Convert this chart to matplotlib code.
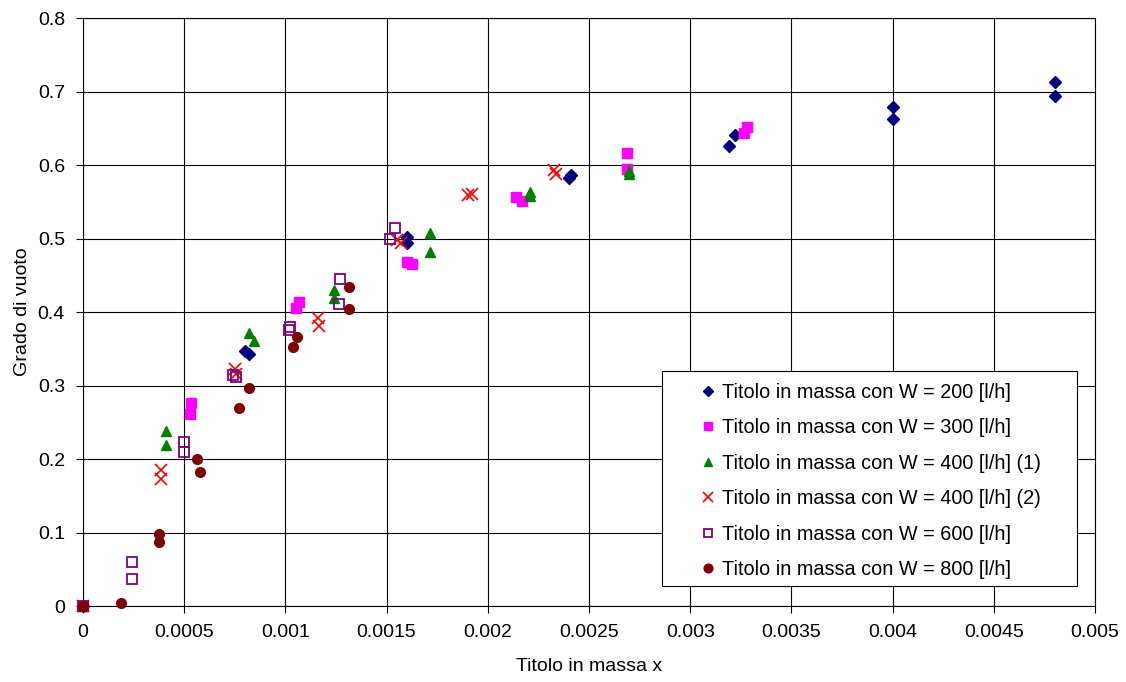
import matplotlib
matplotlib.use("Agg")
import matplotlib.pyplot as plt
from matplotlib.patches import Rectangle
from matplotlib.ticker import FuncFormatter

plt.rcParams['font.family'] = ['Liberation Sans', 'DejaVu Sans']

# W = 200 l/h
x_200 = [0.0, 0.00080, 0.00082, 0.00160, 0.00160, 0.00240, 0.00241,
         0.00319, 0.00322, 0.00400, 0.00400, 0.00480, 0.00480]
y_200 = [0.0, 0.347, 0.343, 0.502, 0.494, 0.583, 0.587,
         0.626, 0.641, 0.679, 0.663, 0.713, 0.694]

# W = 300 l/h
x_300 = [0.0, 0.000531, 0.000535, 0.00105, 0.001066, 0.00160, 0.001625,
         0.00214, 0.00217, 0.00269, 0.00269, 0.003268, 0.00328]
y_300 = [0.0, 0.261, 0.276, 0.406, 0.414, 0.468, 0.466,
         0.556, 0.551, 0.617, 0.594, 0.643, 0.652]

# W = 400 l/h (1)
x_400a = [0.0, 0.000408, 0.000411, 0.000819, 0.000844, 0.00124, 0.00124,
          0.001712, 0.001712, 0.00221, 0.00221, 0.0027, 0.0027]
y_400a = [0.0, 0.2385, 0.2186, 0.371, 0.361, 0.430, 0.419,
          0.508, 0.481, 0.563, 0.558, 0.592, 0.588]

# W = 400 l/h (2)
x_400b = [0.0, 0.000386, 0.000386, 0.00075, 0.000755, 0.001159, 0.001165,
          0.00155, 0.00157, 0.0019, 0.00192, 0.002325, 0.002335]
y_400b = [0.0, 0.185, 0.173, 0.323, 0.316, 0.392, 0.381,
          0.498, 0.494, 0.559, 0.561, 0.593, 0.588]

# W = 600 l/h
x_600 = [0.0, 0.000241, 0.000241, 0.000498, 0.000498, 0.00074, 0.000754,
         0.001024, 0.001017, 0.00127, 0.001267, 0.001543, 0.001518]
y_600 = [0.0, 0.0594, 0.0367, 0.223, 0.2095, 0.3147, 0.312,
         0.380, 0.3755, 0.445, 0.411, 0.514, 0.4993]

# W = 800 l/h
x_800 = [0.0, 0.000189, 0.000375, 0.000375, 0.000562, 0.000576, 0.000772,
         0.000821, 0.00104, 0.001056, 0.001312, 0.001312]
y_800 = [0.0, 0.0045, 0.098, 0.087, 0.1996, 0.182, 0.2694,
         0.2966, 0.3524, 0.3664, 0.4336, 0.4045]

x_ticks = [0, 0.0005, 0.001, 0.0015, 0.002, 0.0025, 0.003, 0.0035, 0.004, 0.0045, 0.005]
y_ticks = [0, 0.1, 0.2, 0.3, 0.4, 0.5, 0.6, 0.7, 0.8]

fig = plt.figure(figsize=(11.26, 6.82), dpi=100)
ax = fig.add_subplot(111)
fig.subplots_adjust(left=0.0737, right=0.9725, top=0.9736, bottom=0.1114)

ax.plot(x_200, y_200, 'D', color='#000080', ms=6, ls='none', zorder=3, clip_on=False,
        label='Titolo in massa con W = 200 [l/h]')
ax.plot(x_300, y_300, 's', color='#FF00FF', ms=6.5, ls='none', zorder=3, clip_on=False,
        label='Titolo in massa con W = 300 [l/h]')
ax.plot(x_400a, y_400a, '^', color='#008000', ms=7, ls='none', zorder=3, clip_on=False,
        label='Titolo in massa con W = 400 [l/h] (1)')
ax.plot(x_400b, y_400b, 'x', color='#FF0000', ms=8, mew=1.2, ls='none', zorder=3, clip_on=False,
        label='Titolo in massa con W = 400 [l/h] (2)')
ax.plot(x_600, y_600, 's', mfc='none', mec='#800080', mew=1.3, ms=6.5, ls='none', zorder=3,
        clip_on=False, label='Titolo in massa con W = 600 [l/h]')
ax.plot(x_800, y_800, 'o', color='#800000', ms=7, ls='none', zorder=3, clip_on=False,
        label='Titolo in massa con W = 800 [l/h]')

ax.set_xlim(0, 0.005)
ax.set_ylim(0, 0.8)
ax.set_xticks(x_ticks)
ax.set_yticks(y_ticks)
ax.xaxis.set_major_formatter(FuncFormatter(lambda v, p: '%g' % round(v, 6)))
ax.yaxis.set_major_formatter(FuncFormatter(lambda v, p: '%g' % round(v, 3)))
ax.grid(True, color='black', lw=0.8)
ax.set_axisbelow(True)
ax.tick_params(direction='out', length=5, width=0.8, labelsize=14, pad=8)
for s in ax.spines.values():
    s.set_color('black')
    s.set_linewidth(0.8)

ax.set_xlabel('Titolo in massa x', fontsize=14, labelpad=12)
ax.set_ylabel('Grado di vuoto', fontsize=14, labelpad=5)

# legend box drawn separately (wider than the entries)
box = Rectangle((0.5721, 0.034), 0.4101, 0.3657, transform=ax.transAxes,
                facecolor='white', edgecolor='black', lw=0.8, zorder=4)
ax.add_patch(box)
leg = ax.legend(loc='upper left', bbox_to_anchor=(0.598, 0.3997), borderaxespad=0,
                fontsize=14.3, frameon=False, handlelength=0.8, handletextpad=0.3,
                labelspacing=0.83, borderpad=0.6, markerscale=0.9)
leg.set_zorder(5)

fig.savefig('out.png', dpi=100)
